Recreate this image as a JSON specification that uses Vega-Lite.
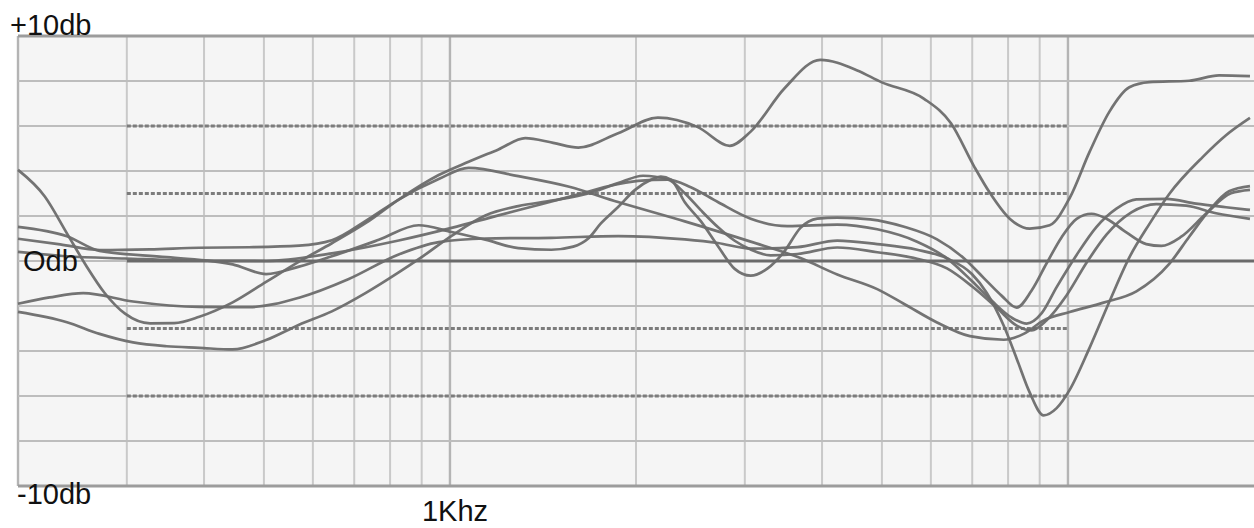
{
  "$schema": "https://vega.github.io/schema/vega-lite/v6.json",
  "width": 1236,
  "height": 450,
  "autosize": {"type": "none"},
  "padding": {"left": 18, "top": 36, "right": 0, "bottom": 42},
  "background": "white",
  "view": {"fill": "#f5f5f5", "stroke": null},
  "config": {"font": "Liberation Sans"},
  "datasets": {
    "vgrid": [
      {"freq": 200, "kind": "major"}, {"freq": 300, "kind": "minor"}, {"freq": 400, "kind": "minor"},
      {"freq": 500, "kind": "minor"}, {"freq": 600, "kind": "minor"}, {"freq": 700, "kind": "minor"},
      {"freq": 800, "kind": "minor"}, {"freq": 900, "kind": "minor"}, {"freq": 1000, "kind": "major"},
      {"freq": 2000, "kind": "minor"}, {"freq": 3000, "kind": "minor"}, {"freq": 4000, "kind": "minor"},
      {"freq": 5000, "kind": "minor"}, {"freq": 6000, "kind": "minor"}, {"freq": 7000, "kind": "minor"},
      {"freq": 8000, "kind": "minor"}, {"freq": 9000, "kind": "minor"}, {"freq": 10000, "kind": "major"}
    ],
    "hgrid": [
      {"db": -10, "kind": "edge"}, {"db": -8, "kind": "line"}, {"db": -6, "kind": "line"},
      {"db": -4, "kind": "line"}, {"db": -2, "kind": "line"}, {"db": 0, "kind": "line"},
      {"db": 2, "kind": "line"}, {"db": 4, "kind": "line"}, {"db": 6, "kind": "line"},
      {"db": 8, "kind": "line"}, {"db": 10, "kind": "edge"}
    ],
    "dotted": [
      {"db": 6, "from": 300, "to": 10000}, {"db": 3, "from": 300, "to": 10000},
      {"db": -3, "from": 300, "to": 10000}, {"db": -6, "from": 300, "to": 10000}
    ],
    "zero": [{"db": 0, "from": 300, "to": 20000}],
    "curves": [
      {"curve": "a", "freq": 200, "db": 4.05}, {"curve": "a", "freq": 221, "db": 2.87}, {"curve": "a", "freq": 240, "db": 1.23},
      {"curve": "a", "freq": 258, "db": -0.22}, {"curve": "a", "freq": 276, "db": -1.41}, {"curve": "a", "freq": 298, "db": -2.34},
      {"curve": "a", "freq": 327, "db": -2.77}, {"curve": "a", "freq": 358, "db": -2.76}, {"curve": "a", "freq": 393, "db": -2.48},
      {"curve": "a", "freq": 445, "db": -1.84}, {"curve": "a", "freq": 504, "db": -0.93}, {"curve": "a", "freq": 570, "db": -0.03},
      {"curve": "a", "freq": 644, "db": 0.79}, {"curve": "a", "freq": 731, "db": 1.69}, {"curve": "a", "freq": 826, "db": 2.73},
      {"curve": "a", "freq": 959, "db": 3.82}, {"curve": "a", "freq": 1072, "db": 4.41}, {"curve": "a", "freq": 1198, "db": 4.96},
      {"curve": "a", "freq": 1324, "db": 5.46}, {"curve": "a", "freq": 1469, "db": 5.25}, {"curve": "a", "freq": 1613, "db": 5.04},
      {"curve": "a", "freq": 1871, "db": 5.68}, {"curve": "a", "freq": 2170, "db": 6.37}, {"curve": "a", "freq": 2518, "db": 5.95},
      {"curve": "a", "freq": 2836, "db": 5.12}, {"curve": "a", "freq": 3066, "db": 5.75}, {"curve": "a", "freq": 3479, "db": 7.68},
      {"curve": "a", "freq": 3974, "db": 8.94}, {"curve": "a", "freq": 4562, "db": 8.47}, {"curve": "a", "freq": 4987, "db": 7.95},
      {"curve": "a", "freq": 5850, "db": 7.21}, {"curve": "a", "freq": 6467, "db": 6.12}, {"curve": "a", "freq": 7044, "db": 4.22},
      {"curve": "a", "freq": 7474, "db": 3.03}, {"curve": "a", "freq": 8049, "db": 1.88}, {"curve": "a", "freq": 8670, "db": 1.44},
      {"curve": "a", "freq": 9340, "db": 1.59}, {"curve": "a", "freq": 10063, "db": 2.8}, {"curve": "a", "freq": 10838, "db": 4.85},
      {"curve": "a", "freq": 11672, "db": 6.64}, {"curve": "a", "freq": 12570, "db": 7.72}, {"curve": "a", "freq": 13540, "db": 7.95},
      {"curve": "a", "freq": 15710, "db": 8.01}, {"curve": "a", "freq": 17558, "db": 8.25}, {"curve": "a", "freq": 19702, "db": 8.22},

      {"curve": "b", "freq": 200, "db": 0.99}, {"curve": "b", "freq": 234, "db": 0.74}, {"curve": "b", "freq": 271, "db": 0.49},
      {"curve": "b", "freq": 327, "db": 0.52}, {"curve": "b", "freq": 393, "db": 0.59}, {"curve": "b", "freq": 473, "db": 0.61},
      {"curve": "b", "freq": 570, "db": 0.68}, {"curve": "b", "freq": 644, "db": 0.92}, {"curve": "b", "freq": 739, "db": 1.87},
      {"curve": "b", "freq": 826, "db": 2.73}, {"curve": "b", "freq": 959, "db": 3.64}, {"curve": "b", "freq": 1072, "db": 4.14},
      {"curve": "b", "freq": 1290, "db": 3.77}, {"curve": "b", "freq": 1554, "db": 3.31}, {"curve": "b", "freq": 1871, "db": 2.62},
      {"curve": "b", "freq": 2399, "db": 1.76}, {"curve": "b", "freq": 3066, "db": 0.86}, {"curve": "b", "freq": 3691, "db": 0.13},
      {"curve": "b", "freq": 4234, "db": -0.6}, {"curve": "b", "freq": 4913, "db": -1.25}, {"curve": "b", "freq": 5432, "db": -1.91},
      {"curve": "b", "freq": 6140, "db": -2.73}, {"curve": "b", "freq": 6939, "db": -3.34}, {"curve": "b", "freq": 7873, "db": -3.5},
      {"curve": "b", "freq": 8478, "db": -3.24}, {"curve": "b", "freq": 9135, "db": -2.64}, {"curve": "b", "freq": 10063, "db": -2.27},
      {"curve": "b", "freq": 11416, "db": -1.85}, {"curve": "b", "freq": 12903, "db": -1.35}, {"curve": "b", "freq": 14585, "db": -0.13},
      {"curve": "b", "freq": 15710, "db": 1.08}, {"curve": "b", "freq": 16919, "db": 2.24}, {"curve": "b", "freq": 18223, "db": 3.1},
      {"curve": "b", "freq": 19702, "db": 3.33},

      {"curve": "c", "freq": 200, "db": -2.26}, {"curve": "c", "freq": 240, "db": -2.72}, {"curve": "c", "freq": 271, "db": -3.24},
      {"curve": "c", "freq": 307, "db": -3.62}, {"curve": "c", "freq": 348, "db": -3.79}, {"curve": "c", "freq": 393, "db": -3.86},
      {"curve": "c", "freq": 445, "db": -3.93}, {"curve": "c", "freq": 504, "db": -3.51}, {"curve": "c", "freq": 570, "db": -2.83},
      {"curve": "c", "freq": 644, "db": -2.24}, {"curve": "c", "freq": 731, "db": -1.42}, {"curve": "c", "freq": 826, "db": -0.51},
      {"curve": "c", "freq": 890, "db": 0.08}, {"curve": "c", "freq": 1006, "db": 1.12}, {"curve": "c", "freq": 1141, "db": 2.02},
      {"curve": "c", "freq": 1290, "db": 2.44}, {"curve": "c", "freq": 1459, "db": 2.68}, {"curve": "c", "freq": 1674, "db": 3.0},
      {"curve": "c", "freq": 1871, "db": 3.46}, {"curve": "c", "freq": 2053, "db": 3.79}, {"curve": "c", "freq": 2252, "db": 3.62},
      {"curve": "c", "freq": 2399, "db": 3.01}, {"curve": "c", "freq": 2546, "db": 2.26}, {"curve": "c", "freq": 2713, "db": 1.51},
      {"curve": "c", "freq": 2889, "db": 0.9}, {"curve": "c", "freq": 3066, "db": 0.51}, {"curve": "c", "freq": 3302, "db": 0.25},
      {"curve": "c", "freq": 3650, "db": 0.31}, {"curve": "c", "freq": 4234, "db": 0.6}, {"curve": "c", "freq": 4913, "db": 0.39},
      {"curve": "c", "freq": 5700, "db": 0.1}, {"curve": "c", "freq": 6371, "db": -0.33}, {"curve": "c", "freq": 6991, "db": -1.12},
      {"curve": "c", "freq": 7672, "db": -2.08}, {"curve": "c", "freq": 8261, "db": -2.87}, {"curve": "c", "freq": 8734, "db": -3.08},
      {"curve": "c", "freq": 9236, "db": -2.63}, {"curve": "c", "freq": 9952, "db": -1.52}, {"curve": "c", "freq": 10716, "db": -0.08},
      {"curve": "c", "freq": 11543, "db": 1.17}, {"curve": "c", "freq": 12664, "db": 2.16}, {"curve": "c", "freq": 13897, "db": 2.53},
      {"curve": "c", "freq": 15535, "db": 2.46}, {"curve": "c", "freq": 17364, "db": 2.12}, {"curve": "c", "freq": 19702, "db": 1.87},

      {"curve": "d", "freq": 200, "db": 1.52}, {"curve": "d", "freq": 240, "db": 1.1}, {"curve": "d", "freq": 271, "db": 0.45},
      {"curve": "d", "freq": 348, "db": 0.17}, {"curve": "d", "freq": 445, "db": -0.15}, {"curve": "d", "freq": 504, "db": -0.58},
      {"curve": "d", "freq": 570, "db": -0.25}, {"curve": "d", "freq": 644, "db": 0.21}, {"curve": "d", "freq": 767, "db": 0.94},
      {"curve": "d", "freq": 890, "db": 1.59}, {"curve": "d", "freq": 1006, "db": 1.29}, {"curve": "d", "freq": 1141, "db": 0.95},
      {"curve": "d", "freq": 1290, "db": 0.57}, {"curve": "d", "freq": 1459, "db": 0.5}, {"curve": "d", "freq": 1583, "db": 0.64},
      {"curve": "d", "freq": 1674, "db": 1.0}, {"curve": "d", "freq": 1756, "db": 1.68}, {"curve": "d", "freq": 1871, "db": 2.4},
      {"curve": "d", "freq": 1993, "db": 3.16}, {"curve": "d", "freq": 2115, "db": 3.61}, {"curve": "d", "freq": 2194, "db": 3.75},
      {"curve": "d", "freq": 2278, "db": 3.62}, {"curve": "d", "freq": 2399, "db": 2.61}, {"curve": "d", "freq": 2546, "db": 1.77},
      {"curve": "d", "freq": 2713, "db": 0.67}, {"curve": "d", "freq": 2889, "db": -0.35}, {"curve": "d", "freq": 3066, "db": -0.65},
      {"curve": "d", "freq": 3266, "db": -0.33}, {"curve": "d", "freq": 3479, "db": 0.44}, {"curve": "d", "freq": 3691, "db": 1.47},
      {"curve": "d", "freq": 3930, "db": 1.88}, {"curve": "d", "freq": 4234, "db": 1.93}, {"curve": "d", "freq": 4787, "db": 1.85},
      {"curve": "d", "freq": 5432, "db": 1.52}, {"curve": "d", "freq": 6140, "db": 0.96}, {"curve": "d", "freq": 6786, "db": 0.12},
      {"curve": "d", "freq": 7310, "db": -0.76}, {"curve": "d", "freq": 7815, "db": -1.55}, {"curve": "d", "freq": 8261, "db": -2.07},
      {"curve": "d", "freq": 8734, "db": -1.31}, {"curve": "d", "freq": 9236, "db": -0.1}, {"curve": "d", "freq": 9768, "db": 1.06},
      {"curve": "d", "freq": 10327, "db": 1.87}, {"curve": "d", "freq": 10918, "db": 2.1}, {"curve": "d", "freq": 11543, "db": 1.88},
      {"curve": "d", "freq": 12431, "db": 1.27}, {"curve": "d", "freq": 13390, "db": 0.75}, {"curve": "d", "freq": 14159, "db": 0.67},
      {"curve": "d", "freq": 15250, "db": 1.08}, {"curve": "d", "freq": 16732, "db": 2.11}, {"curve": "d", "freq": 18359, "db": 3.01},
      {"curve": "d", "freq": 19702, "db": 3.16},

      {"curve": "e", "freq": 200, "db": -1.9}, {"curve": "e", "freq": 225, "db": -1.62}, {"curve": "e", "freq": 255, "db": -1.43},
      {"curve": "e", "freq": 307, "db": -1.8}, {"curve": "e", "freq": 393, "db": -2.04}, {"curve": "e", "freq": 473, "db": -2.05},
      {"curve": "e", "freq": 570, "db": -1.63}, {"curve": "e", "freq": 686, "db": -0.8}, {"curve": "e", "freq": 826, "db": 0.29},
      {"curve": "e", "freq": 959, "db": 0.84}, {"curve": "e", "freq": 1141, "db": 1.0}, {"curve": "e", "freq": 1459, "db": 1.03},
      {"curve": "e", "freq": 1871, "db": 1.11}, {"curve": "e", "freq": 2399, "db": 0.96}, {"curve": "e", "freq": 2713, "db": 0.8},
      {"curve": "e", "freq": 3066, "db": 0.55}, {"curve": "e", "freq": 3650, "db": 0.62}, {"curve": "e", "freq": 4234, "db": 0.91},
      {"curve": "e", "freq": 4913, "db": 0.75}, {"curve": "e", "freq": 5700, "db": 0.5}, {"curve": "e", "freq": 6371, "db": 0.12},
      {"curve": "e", "freq": 6991, "db": -0.58}, {"curve": "e", "freq": 7391, "db": -1.42}, {"curve": "e", "freq": 7873, "db": -2.88},
      {"curve": "e", "freq": 8261, "db": -4.34}, {"curve": "e", "freq": 8670, "db": -5.84}, {"curve": "e", "freq": 9135, "db": -6.86},
      {"curve": "e", "freq": 9587, "db": -6.54}, {"curve": "e", "freq": 10063, "db": -5.73}, {"curve": "e", "freq": 10838, "db": -3.86},
      {"curve": "e", "freq": 11672, "db": -1.8}, {"curve": "e", "freq": 12570, "db": 0.16}, {"curve": "e", "freq": 13540, "db": 1.64},
      {"curve": "e", "freq": 14585, "db": 2.98}, {"curve": "e", "freq": 16546, "db": 4.64}, {"curve": "e", "freq": 18020, "db": 5.59},
      {"curve": "e", "freq": 19702, "db": 6.36},

      {"curve": "f", "freq": 200, "db": 0.41}, {"curve": "f", "freq": 240, "db": 0.21}, {"curve": "f", "freq": 298, "db": 0.11},
      {"curve": "f", "freq": 393, "db": 0.01}, {"curve": "f", "freq": 504, "db": 0.0}, {"curve": "f", "freq": 644, "db": 0.34},
      {"curve": "f", "freq": 826, "db": 0.91}, {"curve": "f", "freq": 1006, "db": 1.47}, {"curve": "f", "freq": 1198, "db": 2.03},
      {"curve": "f", "freq": 1390, "db": 2.49}, {"curve": "f", "freq": 1613, "db": 2.96}, {"curve": "f", "freq": 1803, "db": 3.32},
      {"curve": "f", "freq": 2015, "db": 3.56}, {"curve": "f", "freq": 2252, "db": 3.62}, {"curve": "f", "freq": 2453, "db": 3.28},
      {"curve": "f", "freq": 2713, "db": 2.62}, {"curve": "f", "freq": 3066, "db": 1.88}, {"curve": "f", "freq": 3517, "db": 1.55},
      {"curve": "f", "freq": 4234, "db": 1.62}, {"curve": "f", "freq": 4913, "db": 1.41}, {"curve": "f", "freq": 5700, "db": 0.86},
      {"curve": "f", "freq": 6371, "db": 0.12}, {"curve": "f", "freq": 6991, "db": -0.89}, {"curve": "f", "freq": 7530, "db": -1.77},
      {"curve": "f", "freq": 8110, "db": -2.52}, {"curve": "f", "freq": 8574, "db": -2.78}, {"curve": "f", "freq": 9068, "db": -2.32},
      {"curve": "f", "freq": 9587, "db": -1.16}, {"curve": "f", "freq": 10327, "db": 0.27}, {"curve": "f", "freq": 11124, "db": 1.52},
      {"curve": "f", "freq": 11979, "db": 2.33}, {"curve": "f", "freq": 12903, "db": 2.74}, {"curve": "f", "freq": 14425, "db": 2.76},
      {"curve": "f", "freq": 16123, "db": 2.55}, {"curve": "f", "freq": 18020, "db": 2.39}, {"curve": "f", "freq": 19702, "db": 2.27}
    ]
  },
  "layer": [
    {
      "data": {"name": "vgrid"},
      "transform": [{"filter": "datum.kind == 'minor'"}],
      "mark": {"type": "rule", "stroke": "#c9c9c9", "strokeWidth": 2},
      "encoding": {
        "x": {"field": "freq", "type": "quantitative", "scale": {"type": "log", "domain": [200, 20000]}, "axis": null}
      }
    },
    {
      "data": {"name": "vgrid"},
      "transform": [{"filter": "datum.kind == 'major'"}],
      "mark": {"type": "rule", "stroke": "#b4b4b4", "strokeWidth": 2.4},
      "encoding": {
        "x": {"field": "freq", "type": "quantitative", "scale": {"type": "log", "domain": [200, 20000]}, "axis": null}
      }
    },
    {
      "data": {"name": "hgrid"},
      "transform": [{"filter": "datum.kind == 'line'"}],
      "mark": {"type": "rule", "stroke": "#bdbdbd", "strokeWidth": 2.2},
      "encoding": {
        "y": {"field": "db", "type": "quantitative", "scale": {"domain": [-10, 10]}, "axis": null}
      }
    },
    {
      "data": {"name": "hgrid"},
      "transform": [{"filter": "datum.kind == 'edge'"}],
      "mark": {"type": "rule", "stroke": "#9c9c9c", "strokeWidth": 3.2},
      "encoding": {
        "y": {"field": "db", "type": "quantitative", "scale": {"domain": [-10, 10]}, "axis": null}
      }
    },
    {
      "data": {"name": "dotted"},
      "mark": {"type": "rule", "stroke": "#7c7c7c", "strokeWidth": 3, "strokeDash": [4, 2]},
      "encoding": {
        "x": {"field": "from", "type": "quantitative", "scale": {"type": "log", "domain": [200, 20000]}, "axis": null},
        "x2": {"field": "to"},
        "y": {"field": "db", "type": "quantitative", "scale": {"domain": [-10, 10]}, "axis": null}
      }
    },
    {
      "data": {"name": "zero"},
      "mark": {"type": "rule", "stroke": "#6a6a6a", "strokeWidth": 3.2},
      "encoding": {
        "x": {"field": "from", "type": "quantitative", "scale": {"type": "log", "domain": [200, 20000]}, "axis": null},
        "x2": {"field": "to"},
        "y": {"field": "db", "type": "quantitative", "scale": {"domain": [-10, 10]}, "axis": null}
      }
    },
    {
      "data": {"name": "curves"},
      "mark": {"type": "line", "stroke": "#6b6b6b", "strokeWidth": 2.7, "interpolate": "monotone", "opacity": 0.95},
      "encoding": {
        "x": {"field": "freq", "type": "quantitative", "scale": {"type": "log", "domain": [200, 20000]}, "axis": null},
        "y": {"field": "db", "type": "quantitative", "scale": {"domain": [-10, 10]}, "axis": null},
        "detail": {"field": "curve", "type": "nominal"}
      }
    },
    {
      "data": {"values": [{"label": "+10db", "freq": 200, "db": 10}]},
      "mark": {"type": "text", "align": "left", "baseline": "alphabetic", "dx": -8, "dy": -1, "fontSize": 29, "fill": "#111111"},
      "encoding": {
        "x": {"field": "freq", "type": "quantitative", "scale": {"type": "log", "domain": [200, 20000]}, "axis": null},
        "y": {"field": "db", "type": "quantitative", "scale": {"domain": [-10, 10]}, "axis": null},
        "text": {"field": "label"}
      }
    },
    {
      "data": {"values": [{"label": "Odb", "freq": 200, "db": 0}]},
      "mark": {"type": "text", "align": "left", "baseline": "alphabetic", "dx": 5, "dy": 10, "fontSize": 29, "fill": "#111111"},
      "encoding": {
        "x": {"field": "freq", "type": "quantitative", "scale": {"type": "log", "domain": [200, 20000]}, "axis": null},
        "y": {"field": "db", "type": "quantitative", "scale": {"domain": [-10, 10]}, "axis": null},
        "text": {"field": "label"}
      }
    },
    {
      "data": {"values": [{"label": "-10db", "freq": 200, "db": -10}]},
      "mark": {"type": "text", "align": "left", "baseline": "alphabetic", "dx": -1, "dy": 18, "fontSize": 29, "fill": "#111111"},
      "encoding": {
        "x": {"field": "freq", "type": "quantitative", "scale": {"type": "log", "domain": [200, 20000]}, "axis": null},
        "y": {"field": "db", "type": "quantitative", "scale": {"domain": [-10, 10]}, "axis": null},
        "text": {"field": "label"}
      }
    },
    {
      "data": {"values": [{"label": "1Khz", "freq": 1000, "db": -10}]},
      "mark": {"type": "text", "align": "center", "baseline": "alphabetic", "dx": 5, "dy": 35, "fontSize": 29, "fill": "#111111"},
      "encoding": {
        "x": {"field": "freq", "type": "quantitative", "scale": {"type": "log", "domain": [200, 20000]}, "axis": null},
        "y": {"field": "db", "type": "quantitative", "scale": {"domain": [-10, 10]}, "axis": null},
        "text": {"field": "label"}
      }
    }
  ]
}
